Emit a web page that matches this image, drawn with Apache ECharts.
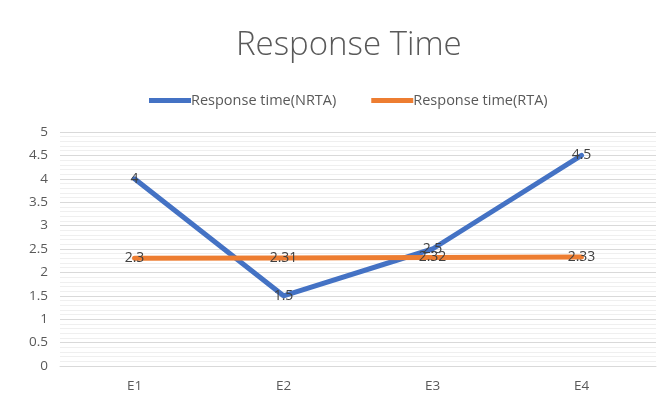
<!DOCTYPE html>
<html>
<head>
<meta charset="utf-8">
<script src="https://cdn.jsdelivr.net/npm/echarts@6/dist/echarts.min.js"></script>
<style>
  html, body { margin: 0; padding: 0; background: #fff; }
  #chart { width: 670px; height: 408px; }
</style>
</head>
<body>
<div id="chart"></div>
<script>
// Experiments and measured response times
const categories = ['E1', 'E2', 'E3', 'E4'];
const nrtaValues = [4, 1.5, 2.5, 4.5];
const rtaValues = [2.3, 2.31, 2.32, 2.33];
const seriesNames = ['Response time(NRTA)', 'Response time(RTA)'];

const FONT = '"Open Sans"';
const labelStyle = {
  show: true,
  position: 'inside',
  color: '#404040',
  fontSize: 14,
  fontFamily: FONT
};

const chart = echarts.init(document.getElementById('chart'), null, { renderer: 'canvas' });
chart.setOption({
  animation: false,
  title: {
    text: 'Response Time',
    left: 231,
    top: 24,
    textStyle: { fontFamily: FONT, fontSize: 33, fontWeight: 300, color: '#595959' }
  },
  legend: {
    top: 88,
    left: 144,
    itemGap: 35,
    itemWidth: 42,
    itemHeight: 5,
    icon: 'rect',
    textStyle: { fontFamily: FONT, fontSize: 14.5, color: '#595959', padding: [0, 0, 0, -5] },
    data: seriesNames
  },
  grid: { left: 60, right: 14, top: 132, bottom: 42 },
  xAxis: {
    type: 'category',
    data: categories,
    boundaryGap: true,
    axisLine: { lineStyle: { color: '#d9d9d9' } },
    axisTick: { show: false },
    axisLabel: { color: '#595959', fontFamily: FONT, fontSize: 13.5, margin: 13 }
  },
  yAxis: {
    type: 'value',
    min: 0,
    max: 5,
    interval: 0.5,
    axisLine: { show: false },
    axisTick: { show: false },
    axisLabel: { color: '#595959', fontFamily: FONT, fontSize: 13.5, margin: 12 },
    splitLine: { lineStyle: { color: '#d9d9d9', width: 1 } },
    minorTick: { show: false, splitNumber: 5 },
    minorSplitLine: { show: true, lineStyle: { color: '#efefef', width: 1 } }
  },
  series: [
    {
      name: seriesNames[0],
      type: 'line',
      data: nrtaValues,
      symbol: 'circle',
      symbolSize: 1,
      lineStyle: { color: '#4472C4', width: 5, cap: 'round' },
      itemStyle: { color: '#4472C4' },
      label: labelStyle,
      z: 2
    },
    {
      name: seriesNames[1],
      type: 'line',
      data: rtaValues,
      symbol: 'circle',
      symbolSize: 1,
      lineStyle: { color: '#ED7D31', width: 5, cap: 'round' },
      itemStyle: { color: '#ED7D31' },
      label: labelStyle,
      z: 3
    }
  ]
});
</script>
</body>
</html>
